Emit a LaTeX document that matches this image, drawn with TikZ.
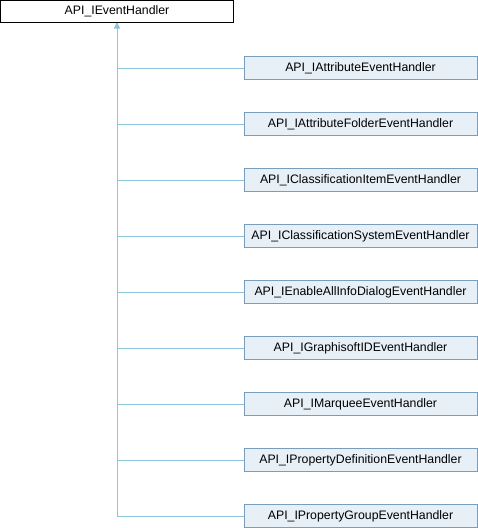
\documentclass[tikz,border=0pt]{standalone}
\usepackage{fontspec}
\setmainfont{Liberation Sans}
\usetikzlibrary{arrows.meta}
\definecolor{edgecol}{HTML}{8EC4E2}
\definecolor{boxborder}{HTML}{7A9EBA}
\definecolor{boxfill}{HTML}{E8F0F7}
\tikzset{
  basebox/.style={draw=black, fill=white, line width=1pt, minimum width=233pt, minimum height=22pt, inner sep=0pt, font=\fontsize{12.3}{15}\selectfont},
  childbox/.style={draw=boxborder, fill=boxfill, line width=1pt, minimum width=233pt, minimum height=22.5pt, inner sep=0pt, font=\fontsize{12.3}{15}\selectfont},
  inherit/.style={draw=edgecol, line width=1pt, -{Triangle[open, length=5pt, width=5pt]}}
}
\begin{document}
\begin{tikzpicture}[x=1pt,y=-1pt]
\useasboundingbox (0,0) rectangle (478,528);
\node[basebox] (base) at (117,11.5) {API\_IEventHandler};
\foreach \i/\name in {0/API\_IAttributeEventHandler,
  1/API\_IAttributeFolderEventHandler,
  2/API\_IClassificationItemEventHandler,
  3/API\_IClassificationSystemEventHandler,
  4/API\_IEnableAllInfoDialogEventHandler,
  5/API\_IGraphisoftIDEventHandler,
  6/API\_IMarqueeEventHandler,
  7/API\_IPropertyDefinitionEventHandler,
  8/API\_IPropertyGroupEventHandler}{
  \node[childbox] (c\i) at (360.5,{68+56*\i}) {\name};
  \draw[inherit] (c\i.west) -- (base.south |- c\i.west) -- (base.south);
}
\end{tikzpicture}
\end{document}
